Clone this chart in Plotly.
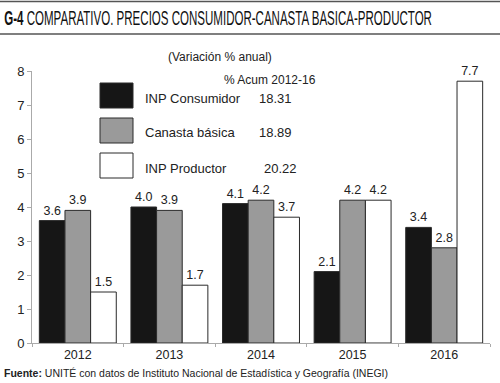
import plotly.graph_objects as go

years = ["2012", "2013", "2014", "2015", "2016"]
consumidor = [3.6, 4.0, 4.1, 2.1, 3.4]
canasta = [3.9, 3.9, 4.2, 4.2, 2.8]
productor = [1.5, 1.7, 3.7, 4.2, 7.7]
series_names = ["INP Consumidor", "Canasta básica", "INP Productor"]
acum = ["18.31", "18.89", "20.22"]
colors = ["#161616", "#9a9a9a", "#ffffff"]

W, H = 500, 383
L, R, T, B = 32, 10, 71, 40
pw, ph = W - L - R, H - T - B
FONT = "Liberation Sans, Arial, sans-serif"

def px(x):
    return (x - L) / pw

def py(y):
    return (H - B - y) / ph

fig = go.Figure()
for name, vals, c in zip(series_names, [consumidor, canasta, productor], colors):
    fig.add_trace(go.Bar(
        x=years, y=vals, name=name, marker=dict(color=c, line=dict(color="#2a2a2a", width=1)),
        text=[f"{v:.1f}" for v in vals], textposition="outside",
        textfont=dict(family=FONT, size=12.5, color="#222"),
        cliponaxis=False, showlegend=False))

shapes = [
    dict(type="line", xref="paper", yref="paper", x0=px(0), x1=px(500), y0=py(1.5), y1=py(1.5),
         line=dict(color="#555", width=1.5)),
    dict(type="line", xref="paper", yref="paper", x0=px(0), x1=px(500), y0=py(34), y1=py(34),
         line=dict(color="#555", width=1.5)),
]
annotations = [
    dict(text="<b>G-4</b> COMPARATIVO. PRECIOS CONSUMIDOR-CANASTA BASICA-PRODUCTOR",
         xref="paper", yref="paper", x=px(2), y=py(18), xanchor="left", yanchor="middle",
         showarrow=False, font=dict(family=FONT, size=20, color="#111")),
    dict(text="(Variación % anual)", xref="paper", yref="paper", x=px(220), y=py(57),
         xanchor="center", yanchor="middle", showarrow=False,
         font=dict(family=FONT, size=12, color="#222")),
    dict(text="% Acum 2012-16", xref="paper", yref="paper", x=px(222), y=py(80),
         xanchor="left", yanchor="middle", showarrow=False,
         font=dict(family=FONT, size=12, color="#222")),
    dict(text="<b>Fuente:</b> UNITÉ con datos de Instituto Nacional de Estadística y Geografía (INEGI)",
         xref="paper", yref="paper", x=px(2), y=py(373), xanchor="left", yanchor="middle",
         showarrow=False, font=dict(family=FONT, size=10.5, color="#222")),
]
box_tops = [83, 118, 153]
text_y = [98, 132, 168]
val_x = [257, 257, 262]
for i, (name, val, c) in enumerate(zip(series_names, acum, colors)):
    t = box_tops[i]
    shapes.append(dict(type="rect", xref="paper", yref="paper", x0=px(100), x1=px(133),
                       y0=py(t + 25), y1=py(t), fillcolor=c, line=dict(color="#2a2a2a", width=1)))
    annotations.append(dict(text=name, xref="paper", yref="paper", x=px(143), y=py(text_y[i]),
                            xanchor="left", yanchor="middle", showarrow=False,
                            font=dict(family=FONT, size=13, color="#222")))
    annotations.append(dict(text=val, xref="paper", yref="paper", x=px(val_x[i]), y=py(text_y[i]),
                            xanchor="left", yanchor="middle", showarrow=False,
                            font=dict(family=FONT, size=13, color="#222")))

fig.update_layout(
    width=W, height=H, margin=dict(l=L, r=R, t=T, b=B),
    paper_bgcolor="white", plot_bgcolor="white",
    barmode="group", bargap=0.16, bargroupgap=0,
    shapes=shapes, annotations=annotations,
    font=dict(family=FONT, size=13, color="#222"),
    xaxis=dict(showline=True, linecolor="#aaa", ticks="outside", tickson="boundaries",
               ticklen=3, tickcolor="#aaa", showgrid=False,
               tickfont=dict(size=12.5)),
    yaxis=dict(range=[0, 8], dtick=1, showline=True, linecolor="#aaa", ticks="outside",
               ticklen=4, tickcolor="#aaa", showgrid=False, zeroline=False,
               tickfont=dict(size=13)),
)

post = """
document.body.style.margin='0';
document.body.style.padding='0';
function squeezeTitle(){
  var texts = document.querySelectorAll('text.annotation-text');
  texts.forEach(function(el){
    if (el.textContent.indexOf('COMPARATIVO') >= 0) {
      var w = el.getBBox().width;
      if (w > 0) {
        var s = 428 / w;
        el.style.transformBox = 'fill-box';
        el.style.transformOrigin = 'left center';
        el.style.transform = 'scaleX(' + s + ')';
      }
    }
  });
}
squeezeTitle();
var gd = document.getElementsByClassName('plotly-graph-div')[0];
if (gd && gd.on) { gd.on('plotly_afterplot', squeezeTitle); }
"""
fig.write_html("out.html", post_script=post, config={"displayModeBar": False})
